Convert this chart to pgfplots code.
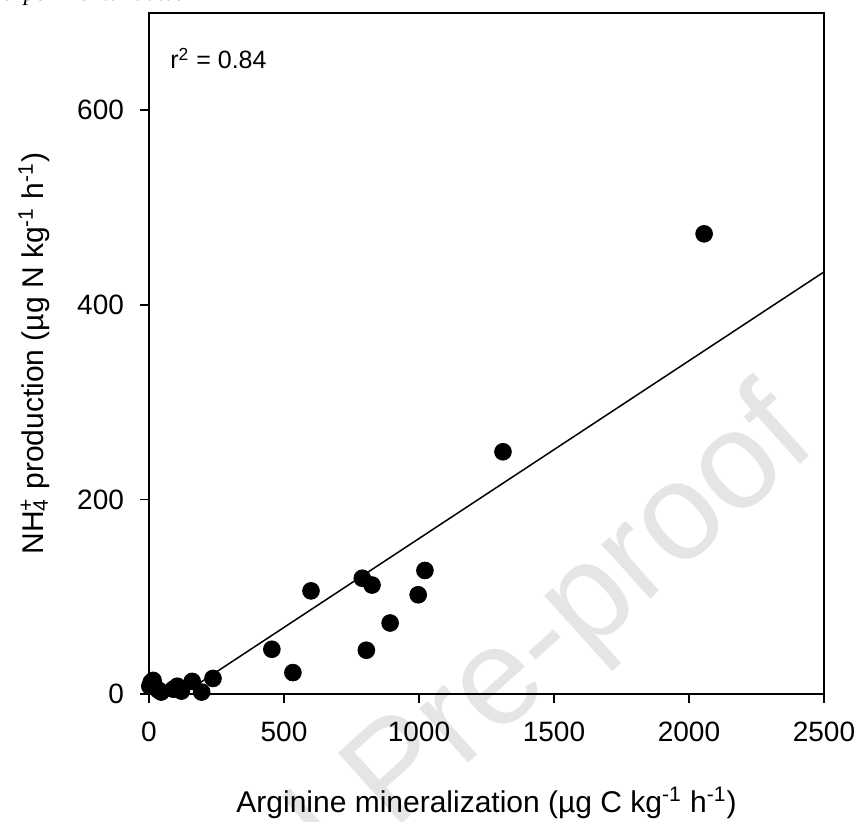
\documentclass[border=0pt]{standalone}
\usepackage{fontspec}
\setmainfont{Liberation Sans}
\newfontfamily\serifit{Liberation Serif}
\usepackage{pgfplots}
\pgfplotsset{compat=1.18}

\begin{document}
\begin{tikzpicture}
\useasboundingbox (-74.5pt,-63.5pt) rectangle (353.5pt,347pt);
% watermark
\node[rotate=42, anchor=base east, text=black!10, font=\fontsize{69}{72}\selectfont, inner sep=0pt] at (336pt,124pt) {Journal Pre-proof};
% cropped caption from page
\node[anchor=base east, font=\serifit\itshape\fontsize{12}{14}\selectfont, inner sep=0pt] at (17pt,346.6pt) {experimental data.};
\begin{axis}[
  scale only axis, width=337.5pt, height=340.5pt,
  xmin=0, xmax=2500, ymin=0, ymax=700,
  xtick={0,500,1000,1500,2000,2500}, ytick={0,200,400,600},
  tick align=outside, major tick length=4.5pt,
  xtick pos=bottom, ytick pos=left,
  minor tick num=0,
  axis line style={line width=0.8pt},
  every tick/.style={line width=0.8pt, black},
  /pgf/number format/assume math mode=true,
  /pgf/number format/1000 sep={},
  ticklabel style={font=\fontsize{14}{16}\selectfont},
  xticklabel style={yshift=-6pt},
  yticklabel style={xshift=-4.5pt},
  label style={font=\fontsize{15}{18}\selectfont},
  xlabel={Arginine mineralization (µg C kg\textsuperscript{-1} h\textsuperscript{-1})},
  ylabel={NH\rlap{\textsubscript{4}}\textsuperscript{+} production (µg N kg\textsuperscript{-1} h\textsuperscript{-1})},
  xlabel style={at={(axis description cs:0.5,-0.16)}, anchor=center},
  ylabel style={at={(axis description cs:-0.1704,0.5)}, anchor=center},
  clip=false,
]
\addplot[black, line width=0.75pt, no marks] coordinates {(150,4.5) (2500,433.9)};
\addplot[only marks, mark=*, mark size=4.2pt, black] coordinates {
(3,8) (8,12) (15,14) (22,7) (35,4) (45,2) (90,5) (105,8) (120,3) (160,13) (195,2) (237,16)
(455,46) (533,22) (600,106) (790,119) (805,45) (826,112) (893,73) (997,102) (1022,127)
(1311,249) (2056,473)
};
\node[anchor=base west, font=\fontsize{12.5}{14}\selectfont, inner sep=0pt] at (rel axis cs:0.031,0.918) {r\textsuperscript{2} = 0.84};
\end{axis}
\end{tikzpicture}
\end{document}
